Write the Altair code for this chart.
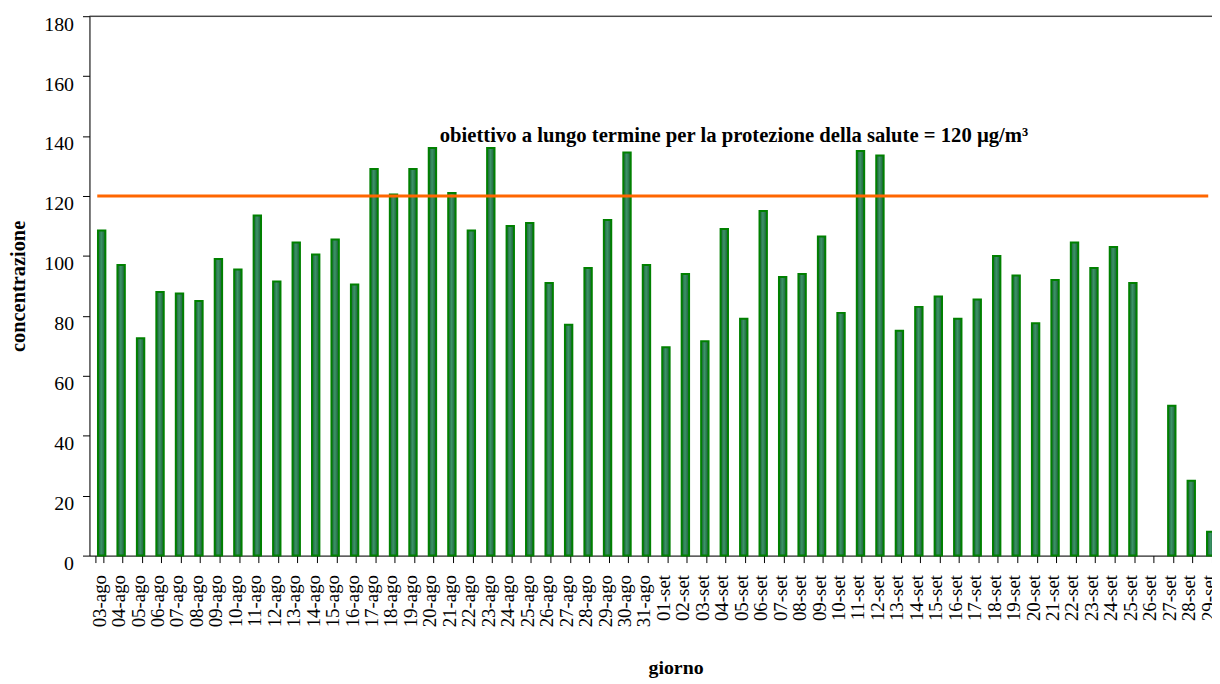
import altair as alt
import pandas as pd

# ---- data ----
days = [
    "03-ago", "04-ago", "05-ago", "06-ago", "07-ago", "08-ago", "09-ago", "10-ago",
    "11-ago", "12-ago", "13-ago", "14-ago", "15-ago", "16-ago", "17-ago", "18-ago",
    "19-ago", "20-ago", "21-ago", "22-ago", "23-ago", "24-ago", "25-ago", "26-ago",
    "27-ago", "28-ago", "29-ago", "30-ago", "31-ago",
    "01-set", "02-set", "03-set", "04-set", "05-set", "06-set", "07-set", "08-set",
    "09-set", "10-set", "11-set", "12-set", "13-set", "14-set", "15-set", "16-set",
    "17-set", "18-set", "19-set", "20-set", "21-set", "22-set", "23-set", "24-set",
    "25-set", "26-set", "27-set", "28-set", "29-set",
]
values = [
    108.5, 97, 72.5, 88, 87.5, 85, 99, 95.5,
    113.5, 91.5, 104.5, 100.5, 105.5, 90.5, 129, 120.5,
    129, 136, 121, 108.5, 136, 110, 111, 91,
    77, 96, 112, 134.5, 97,
    69.5, 94, 71.5, 109, 79, 115, 93, 94,
    106.5, 81, 135, 133.5, 75, 83, 86.5, 79,
    85.5, 100, 93.5, 77.5, 92, 104.5, 96, 103,
    91, None, 50, 25, 8,
]
y_ticks = [0, 20, 40, 60, 80, 100, 120, 140, 160, 180]
limit_value = [120]
limit_start = ["03-ago"]
limit_end = ["29-set"]
note_text = ["obiettivo a lungo termine per la protezione della salute = 120 µg/m³"]
note_day = ["21-ago"]
note_y = [138]
frame_top = [180]

df = pd.DataFrame({"giorno": days, "conc": values})
limit_df = pd.DataFrame({"start": limit_start, "end": limit_end, "limite": limit_value})
note_df = pd.DataFrame({"giorno": note_day, "y": note_y, "testo": note_text})
frame_df = pd.DataFrame({"top": frame_top})

FONT = "Liberation Serif"
W = 1130          # visible plot width (svg ends at the window edge)
RANGE_W = 1136    # full category range, the last bar runs past the edge as in the reference
H = 543

x_scale = alt.Scale(domain=days, range=[0, RANGE_W], paddingInner=0.62, paddingOuter=0.31)
y_scale = alt.Scale(domain=[0, 180], nice=False, zero=True)

x_axis = alt.Axis(
    labelAngle=270, labelFont=FONT, labelFontSize=19, labelColor="black",
    labelPadding=12, labelOverlap=False, tickSize=7, tickColor="black",
    tickBand="extent", domainColor="black", domainWidth=1,
    title="giorno", titleFont=FONT, titleFontSize=20, titleFontWeight="bold",
    titleColor="black", titleX=590, titleY=119, titleBaseline="alphabetic",
    titleAlign="center",
)
y_axis = alt.Axis(
    values=y_ticks, labelFont=FONT, labelFontSize=20, labelColor="black",
    labelPadding=9, labelBaseline="middle", labelOffset=8, tickSize=7, tickColor="black",
    domainColor="black", grid=False,
    title="concentrazione", titleFont=FONT, titleFontSize=20.5, titleFontWeight="bold",
    titleColor="black", titleAngle=270, titleX=-71.5, titleY=271.5,
    titleBaseline="middle", titleAlign="center",
)

gradient = alt.LinearGradient(
    gradient="linear",
    stops=[
        alt.GradientStop(color="#1d5a38", offset=0),
        alt.GradientStop(color="#3b9466", offset=0.45),
        alt.GradientStop(color="#1d5a38", offset=1),
    ],
    x1=0, x2=1, y1=0, y2=0,
)

bars = alt.Chart(df).mark_bar(
    fill=gradient, stroke="#008000", strokeWidth=2, xOffset=2.5
).encode(
    x=alt.X("giorno:N", scale=x_scale, sort=days, axis=x_axis),
    y=alt.Y("conc:Q", scale=y_scale, axis=y_axis),
)

limit_rule = alt.Chart(limit_df).mark_rule(color="#FF6600", strokeWidth=3).encode(
    x=alt.X("start:N", bandPosition=0.24),
    x2=alt.X2("end:N"),
    y=alt.Y("limite:Q"),
)

top_frame = alt.Chart(frame_df).mark_rule(color="black", strokeWidth=1).encode(
    x=alt.value(0), x2=alt.value(RANGE_W), y=alt.Y("top:Q"),
)

note = alt.Chart(note_df).mark_text(
    align="left", baseline="alphabetic", font=FONT, fontSize=20.8,
    fontWeight="bold", color="black", dx=-6,
).encode(
    x=alt.X("giorno:N", bandPosition=0),
    y=alt.Y("y:Q"),
    text="testo:N",
)

chart = alt.layer(bars, limit_rule, top_frame, note).properties(
    width=W, height=H,
    padding={"left": 82, "top": 6, "right": 0, "bottom": 127},
    autosize=alt.AutoSizeParams(type="none"),
).configure_view(stroke=None).configure(background="white")

chart.save("out.html", embed_options={"renderer": "svg", "actions": False})
